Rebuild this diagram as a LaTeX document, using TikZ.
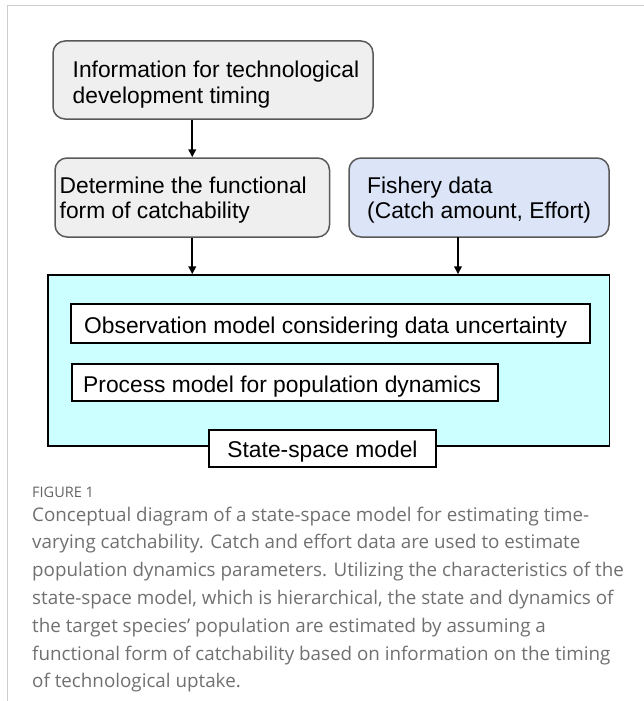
\documentclass[tikz,border=0pt]{standalone}
\usepackage{fontspec}
\setmainfont{Liberation Sans}
\newfontfamily\capfont{Open Sans}
\usetikzlibrary{arrows.meta}
\definecolor{frameline}{RGB}{205,205,205}
\definecolor{boxgrey}{RGB}{239,239,239}
\definecolor{boxedge}{RGB}{89,89,89}
\definecolor{boxblue}{RGB}{220,229,248}
\definecolor{modelcyan}{RGB}{204,255,255}
\definecolor{captext}{RGB}{112,112,112}
\definecolor{figlabel}{RGB}{100,100,100}
\tikzset{
  x=1pt, y=-1pt,
  roundbox/.style={draw=boxedge, line width=1.5pt, rounded corners=12pt, inner sep=0pt},
  plainbox/.style={draw=black, line width=1.5pt, fill=white, inner sep=0pt},
  boxtext/.style={inner sep=0pt, align=left, font=\fontsize{22.8}{25.7}\selectfont},
  arr/.style={line width=2pt, -{Triangle[length=8pt,width=7.5pt]}},
  captionline/.style={inner sep=0pt, anchor=base west, text=captext, font=\capfont\fontsize{18.8}{20}\selectfont}
}
\begin{document}
\begin{tikzpicture}
\useasboundingbox (0,0) rectangle (644,701);
% page frame
\draw[frameline, line width=1pt] (7,701) -- (7,6) -- (644,6);

% upper boxes (two-line texts are anchored at the baseline of their last line)
\node[roundbox, fill=boxgrey, minimum width=320pt, minimum height=78pt] (info) at (213,80) {};
\node[boxtext, anchor=base west] (infot) at (72.5,103.4) {Information for technological\\development timing};

\node[roundbox, fill=boxgrey, minimum width=274.5pt, minimum height=79pt] (form) at (192.25,197.5) {};
\node[boxtext, anchor=base west] (formt) at (59.5,218.7) {Determine the functional\\form of catchability};

\node[roundbox, fill=boxblue, minimum width=260pt, minimum height=79pt] (fish) at (479,197.5) {};
\node[boxtext, anchor=base west] (fisht) at (367,218.7) {Fishery data\\(Catch amount, Effort)};

% state-space model
\node[plainbox, fill=modelcyan, minimum width=561.5pt, minimum height=171pt] (ssm) at (328.75,360.5) {};
\node[plainbox, minimum width=519pt, minimum height=39pt] (obs) at (330.5,323.5) {};
\node[boxtext, anchor=base west] (obst) at (84,333) {Observation model considering data uncertainty};
\node[plainbox, minimum width=426pt, minimum height=37pt] (proc) at (285,382.5) {};
\node[boxtext, anchor=base west] (proct) at (83,392) {Process model for population dynamics};
\node[plainbox, minimum width=227pt, minimum height=37pt] (lab) at (322.5,448.5) {};
\node[boxtext, anchor=base] (labt) at (322.5,457.3) {State-space model};

% connectors
\coordinate (fishout) at (458,236.5);
\draw[arr] (info.south -| form.north) -- (form.north);
\draw[arr] (form.south) -- (form.south |- ssm.north);
\draw[arr] (fishout) -- (fishout |- ssm.north);

% caption
\node[captionline, text=figlabel, font=\capfont\fontsize{14.5}{16}\selectfont] (fig) at (32,497) {FIGURE 1};
\node[captionline] (c1) at (32,521) {Conceptual diagram of a state-space model for estimating time-};
\node[captionline] (c2) at (32,548.8) {varying catchability. Catch and effort data are used to estimate};
\node[captionline] (c3) at (32,576.6) {population dynamics parameters. Utilizing the characteristics of the};
\node[captionline] (c4) at (32,604.4) {state-space model, which is hierarchical, the state and dynamics of};
\node[captionline] (c5) at (32,632.2) {the target species’ population are estimated by assuming a};
\node[captionline] (c6) at (32,660) {functional form of catchability based on information on the timing};
\node[captionline] (c7) at (32,687.8) {of technological uptake.};
\end{tikzpicture}
\end{document}
